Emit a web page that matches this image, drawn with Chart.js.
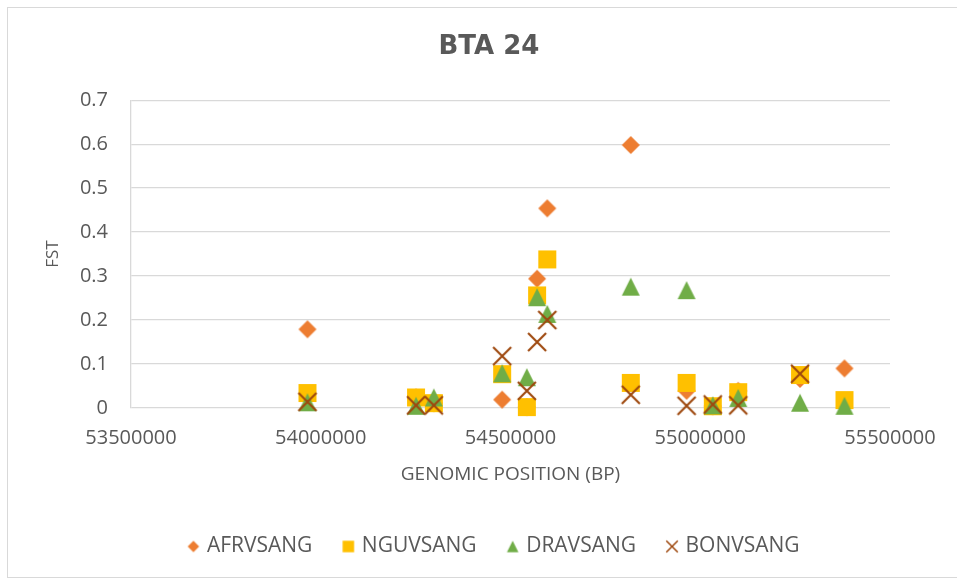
<!DOCTYPE html>
<html>
<head>
<meta charset="utf-8">
<script src="https://cdn.jsdelivr.net/npm/chart.js@4"></script>
<style>
  body { margin: 0; background: #fff; }
  #wrap { position: relative; width: 957px; height: 578px; overflow: hidden; }
  #frame { position: absolute; left: 7px; top: 7px; width: 980px; height: 569px; border: 1px solid #d9d9d9; }
  #c { position: absolute; left: 0; top: 0; }
</style>
</head>
<body>
<div id="wrap">
  <div id="frame"></div>
  <canvas id="c" width="957" height="578"></canvas>
</div>
<script>
// SNP positions (bp) and FST per comparison
const positions = [53965000, 54251000, 54298000, 54478000, 54543000, 54570000, 54597000, 54817000, 54964000, 55033000, 55100000, 55263000, 55380000];
const afrVsAng = [0.179, 0.024, 0.011, 0.019, 0.002, 0.294, 0.454, 0.598, 0.039, 0.004, 0.039, 0.066, 0.090];
const nguVsAng = [0.034, 0.024, 0.011, 0.077, 0.002, 0.256, 0.338, 0.057, 0.057, 0.004, 0.036, 0.075, 0.018];
const draVsAng = [0.013, 0.005, 0.024, 0.079, 0.070, 0.252, 0.214, 0.276, 0.268, 0.006, 0.023, 0.012, 0.005];
const bonVsAng = [0.014, 0.006, 0.006, 0.118, 0.039, 0.150, 0.200, 0.030, 0.005, 0.008, 0.006, 0.078, null];
const seriesNames = ['AFRVSANG', 'NGUVSANG', 'DRAVSANG', 'BONVSANG'];
const xTicks = [53500000, 54000000, 54500000, 55000000, 55500000];
const yTicks = [0, 0.1, 0.2, 0.3, 0.4, 0.5, 0.6, 0.7];

const colors = ['#ED7D31', '#FFC000', '#70AD47', '#9E480E'];
const shapes = ['diamond', 'square', 'triangle', 'x'];

function mark(shape, color, s) {
    const n = Math.ceil(s) + 4;
    const c = document.createElement('canvas');
    c.width = n; c.height = n;
    const g = c.getContext('2d');
    const m = n / 2, h = s / 2;
    g.fillStyle = color;
    g.strokeStyle = color;
    g.beginPath();
    if (shape === 'diamond') {
        g.moveTo(m, m - h); g.lineTo(m + h, m); g.lineTo(m, m + h); g.lineTo(m - h, m);
        g.closePath(); g.fill();
    } else if (shape === 'square') {
        g.fillRect(m - h, m - h, s, s);
    } else if (shape === 'triangle') {
        g.moveTo(m, m - h); g.lineTo(m + h, m + h); g.lineTo(m - h, m + h);
        g.closePath(); g.fill();
    } else {
        g.lineWidth = Math.max(1.5, s / 8.5);
        g.moveTo(m - h, m - h); g.lineTo(m + h, m + h);
        g.moveTo(m + h, m - h); g.lineTo(m - h, m + h);
        g.stroke();
    }
    return c;
}

const plotMarks = shapes.map((s, i) => mark(s, colors[i], 18));
const legendMarks = shapes.map((s, i) => mark(s, colors[i], 11.5));

function toPoints(vals) {
    let pts = [];
    for (let i = 0; i < positions.length; i++)
        if (vals[i] !== null) pts.push({x: positions[i], y: vals[i]});
    return pts;
}

const allSeries = [afrVsAng, nguVsAng, draVsAng, bonVsAng];
const datasets = allSeries.map((vals, i) => ({
    label: seriesNames[i],
    data: toPoints(vals),
    pointStyle: plotMarks[i],
    pointRadius: 9,
    pointHoverRadius: 9,
    backgroundColor: colors[i],
    borderColor: colors[i],
    order: 4 - i,
    clip: false
}));

// nudge the legend a little to the right, like the excel layout
const legendNudge = {
    id: 'legendNudge',
    afterLayout(chart) {
        chart.legend.left += 6;
        chart.legend.right += 6;
    }
};

Chart.defaults.font.family = "'Open Sans', sans-serif";
Chart.defaults.color = '#595959';

new Chart(document.getElementById('c').getContext('2d'), {
    type: 'scatter',
    data: {datasets: datasets},
    plugins: [legendNudge],
    options: {
        responsive: false,
        animation: false,
        layout: {padding: {left: 21, right: 0, top: 0, bottom: 11}},
        plugins: {
            title: {
                display: true,
                text: 'BTA 24',
                color: '#595959',
                font: {family: "'DejaVu Sans', sans-serif", size: 26, weight: 'bold'},
                padding: {top: 32, bottom: 37}
            },
            legend: {
                position: 'bottom',
                labels: {
                    usePointStyle: true,
                    boxWidth: 6,
                    boxHeight: 11,
                    padding: 33,
                    font: {size: 21},
                    color: '#595959',
                    generateLabels: (chart) => chart.data.datasets.map((ds, i) => ({
                        text: ds.label,
                        fillStyle: colors[i],
                        strokeStyle: colors[i],
                        lineWidth: 0,
                        pointStyle: legendMarks[i],
                        hidden: false,
                        datasetIndex: i,
                        fontColor: '#595959'
                    }))
                }
            },
            tooltip: {enabled: false}
        },
        scales: {
            x: {
                type: 'linear',
                min: xTicks[0],
                max: xTicks[xTicks.length - 1],
                afterBuildTicks: (s) => { s.ticks = xTicks.map(v => ({value: v})); },
                afterFit: (s) => { s.height = 95; s.paddingRight = 67; },
                grid: {display: false, drawTicks: false},
                border: {display: false},
                ticks: {
                    padding: 18,
                    maxRotation: 0,
                    font: {size: 20},
                    color: '#595959',
                    callback: (v) => String(v)
                },
                title: {
                    display: true,
                    text: 'GENOMIC POSITION (BP)',
                    color: '#595959',
                    font: {size: 19},
                    padding: {top: 0, bottom: 17}
                }
            },
            y: {
                min: 0,
                max: 0.7,
                afterBuildTicks: (s) => { s.ticks = yTicks.map(v => ({value: v})); },
                afterFit: (s) => { s.width = 110; },
                grid: {color: '#d9d9d9', lineWidth: 1.3, drawTicks: false},
                border: {display: true, color: '#d9d9d9', width: 1.3},
                ticks: {
                    padding: 23,
                    font: {size: 20},
                    color: '#595959',
                    callback: (v) => String(v)
                },
                title: {
                    display: true,
                    text: 'FST',
                    color: '#595959',
                    font: {size: 17},
                    padding: {top: 22, bottom: 0}
                }
            }
        }
    }
});
</script>
</body>
</html>
